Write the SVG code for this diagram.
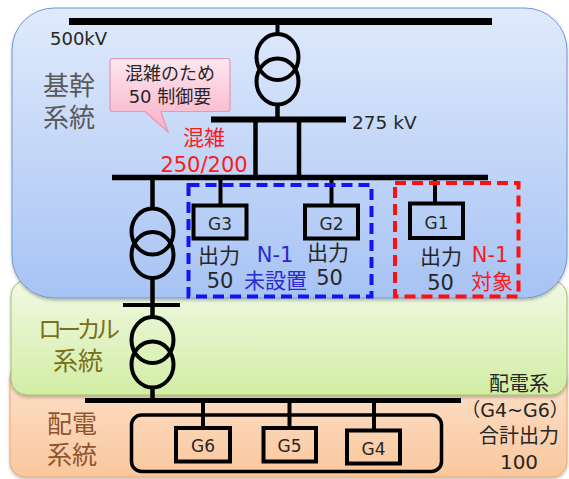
<svg xmlns="http://www.w3.org/2000/svg" width="569" height="479" viewBox="0 0 569 479">
<style>
.t{font-family:"DejaVu Sans","Noto Sans CJK JP",sans-serif;}
.dk{fill:#262626;}
.red{fill:#ff1a1a;}
.blu{fill:#2a2ad0;}
.w{stroke:#000;fill:none;}
.bus{stroke:#000;fill:none;stroke-linecap:butt;}
.gen{stroke:#000;stroke-width:4;fill:none;}
.tr{stroke:#000;stroke-width:4;fill:none;}
.dash{fill:none;stroke-width:4;stroke-dasharray:11 6;}
</style>
<defs>
<linearGradient id="gb" x1="0" y1="0" x2="0" y2="1"><stop offset="0" stop-color="#e0eafc"/><stop offset="1" stop-color="#a7c3f4"/></linearGradient>
<linearGradient id="gg" x1="0" y1="0" x2="0" y2="1"><stop offset="0" stop-color="#f1f9e4"/><stop offset="1" stop-color="#d2eda4"/></linearGradient>
<linearGradient id="go" x1="0" y1="0" x2="0" y2="1"><stop offset="0" stop-color="#fde4d0"/><stop offset="1" stop-color="#fac79d"/></linearGradient>
<linearGradient id="gp" x1="0" y1="0" x2="0" y2="1"><stop offset="0" stop-color="#fde6ef"/><stop offset="1" stop-color="#f8b0c7"/></linearGradient>
<filter id="sh" x="-5%" y="-5%" width="110%" height="115%"><feDropShadow dx="0" dy="2" stdDeviation="1.5" flood-color="#000" flood-opacity="0.25"/></filter>
</defs>

<g id="region-haiden">
<rect x="10" y="363" width="557" height="114" rx="15" fill="url(#go)" stroke="#f0a468" stroke-width="1" filter="url(#sh)"/>
<text class="t" x="47" y="433" font-size="25" fill="#8e5530">配電</text>
<text class="t" x="47" y="464" font-size="25" fill="#8e5530">系統</text>
</g>
<g id="region-local">
<rect x="11" y="280" width="556" height="115" rx="16" fill="url(#gg)" stroke="#9cc46a" stroke-width="1" filter="url(#sh)"/>
<text class="t" x="38" y="338" font-size="24" fill="#7a7018" textLength="82">ローカル</text>
<text class="t" x="53" y="370" font-size="25" fill="#7a7018">系統</text>
</g>
<g id="region-kikan">
<rect x="12" y="8" width="555" height="290" rx="42" fill="url(#gb)" stroke="#7096d4" stroke-width="1" filter="url(#sh)"/>
<text class="t" x="43" y="95" font-size="26" fill="#595959">基幹</text>
<text class="t" x="43" y="127" font-size="26" fill="#595959">系統</text>
</g>

<g id="connectors">
<line class="bus" x1="69" y1="21.5" x2="492" y2="21.5" stroke-width="7"/>
<line class="w" x1="277.5" y1="21" x2="277.5" y2="34" stroke-width="4"/>
<line class="w" x1="277.5" y1="104" x2="277.5" y2="120" stroke-width="4.5"/>
<line class="bus" x1="211" y1="119.5" x2="346" y2="119.5" stroke-width="6"/>
<line class="w" x1="255.5" y1="119" x2="255.5" y2="178" stroke-width="4.5"/>
<line class="w" x1="299" y1="119" x2="299" y2="178" stroke-width="4.5"/>
<line class="bus" x1="112" y1="177.5" x2="488" y2="177.5" stroke-width="5.5"/>
<line class="w" x1="152.5" y1="177" x2="152.5" y2="209" stroke-width="4.5"/>
<line class="w" x1="152.5" y1="277" x2="152.5" y2="318" stroke-width="4.5"/>
<line class="bus" x1="123" y1="305" x2="180" y2="305" stroke-width="4"/>
<line class="w" x1="152.5" y1="387" x2="152.5" y2="401" stroke-width="4.5"/>
<line class="bus" x1="85" y1="400.5" x2="461" y2="400.5" stroke-width="5"/>
<line class="w" x1="220.5" y1="177" x2="220.5" y2="206" stroke-width="4"/>
<line class="w" x1="331.5" y1="177" x2="331.5" y2="206" stroke-width="4"/>
<line class="w" x1="435" y1="177" x2="435" y2="204" stroke-width="4"/>
<line class="w" x1="203" y1="400" x2="203" y2="428" stroke-width="4"/>
<line class="w" x1="289.5" y1="400" x2="289.5" y2="428" stroke-width="4"/>
<line class="w" x1="374" y1="400" x2="374" y2="431" stroke-width="4"/>
</g>

<g id="tr-500-275">
<ellipse class="tr" cx="277.5" cy="57" rx="21" ry="23"/>
<ellipse class="tr" cx="277.5" cy="81.5" rx="21" ry="23"/>
</g>
<g id="tr-kikan-local">
<ellipse class="tr" cx="152.5" cy="231.5" rx="21" ry="23"/>
<ellipse class="tr" cx="152.5" cy="255" rx="21" ry="23"/>
</g>
<g id="tr-local-haiden">
<ellipse class="tr" cx="152.5" cy="340" rx="21" ry="23"/>
<ellipse class="tr" cx="152.5" cy="364.5" rx="21" ry="23"/>
</g>

<g id="bus-labels">
<text class="t dk" x="50" y="45" font-size="18">500kV</text>
<text class="t dk" x="352" y="129" font-size="18.5">275 kV</text>
</g>

<g id="callout">
<path d="M113,58.5 H227 Q230,58.5 230,61.5 V108.5 Q230,111.5 227,111.5 H161 L168,132 L145,111.5 H113 Q110,111.5 110,108.5 V61.5 Q110,58.5 113,58.5 Z" fill="url(#gp)" stroke="#e597b3" stroke-width="1.2"/>
<text class="t dk" x="170" y="80" font-size="18" text-anchor="middle">混雑のため</text>
<text class="t dk" x="170" y="103" font-size="18" text-anchor="middle">50 制御要</text>
</g>

<g id="congestion">
<text class="t red" x="204" y="145" font-size="21" text-anchor="middle">混雑</text>
<text class="t red" x="204" y="171.5" font-size="21" text-anchor="middle">250/200</text>
</g>

<g id="group-n1-none">
<rect class="dash" x="188.5" y="185" width="183" height="111.5" stroke="#1414f0"/>
<text class="t blu" x="275" y="262" font-size="21" text-anchor="middle">N-1</text>
<text class="t blu" x="275.5" y="288" font-size="21" text-anchor="middle">未設置</text>
</g>
<g id="group-n1-target">
<rect class="dash" x="395" y="183" width="123.5" height="113.5" stroke="#ff1010"/>
<text class="t red" x="490" y="262" font-size="21" text-anchor="middle">N-1</text>
<text class="t red" x="492" y="289" font-size="21" text-anchor="middle">対象</text>
</g>

<g id="G3">
<rect class="gen" x="193.5" y="205.5" width="53" height="33"/>
<text class="t dk" x="220" y="230" font-size="17" text-anchor="middle">G3</text>
<text class="t dk" x="219" y="263" font-size="21" text-anchor="middle">出力</text>
<text class="t dk" x="220" y="288" font-size="21" text-anchor="middle">50</text>
</g>
<g id="G2">
<rect class="gen" x="305" y="205.5" width="53" height="33"/>
<text class="t dk" x="331.5" y="230" font-size="17" text-anchor="middle">G2</text>
<text class="t dk" x="328" y="260" font-size="21" text-anchor="middle">出力</text>
<text class="t dk" x="329.5" y="285" font-size="21" text-anchor="middle">50</text>
</g>
<g id="G1">
<rect class="gen" x="410" y="203.5" width="53" height="34.5"/>
<text class="t dk" x="436.5" y="229" font-size="17" text-anchor="middle">G1</text>
<text class="t dk" x="441" y="264" font-size="21" text-anchor="middle">出力</text>
<text class="t dk" x="440.5" y="290" font-size="21" text-anchor="middle">50</text>
</g>

<g id="haiden-group">
<rect x="131.5" y="415" width="310" height="56.5" rx="10" fill="none" stroke="#000" stroke-width="3.5"/>
</g>
<g id="G6">
<rect class="gen" x="176" y="428" width="54" height="33.5"/>
<text class="t dk" x="203" y="452" font-size="17" text-anchor="middle">G6</text>
</g>
<g id="G5">
<rect class="gen" x="263.5" y="428" width="52.5" height="33.5"/>
<text class="t dk" x="289.5" y="452" font-size="17" text-anchor="middle">G5</text>
</g>
<g id="G4">
<rect class="gen" x="347" y="430.5" width="53" height="33"/>
<text class="t dk" x="373.5" y="455" font-size="17" text-anchor="middle">G4</text>
</g>

<g id="haiden-note">
<text class="t dk" x="519" y="391" font-size="20" text-anchor="middle">配電系</text>
<text class="t dk" x="515" y="417" font-size="19" text-anchor="middle">（G4~G6）</text>
<text class="t dk" x="519" y="443" font-size="20" text-anchor="middle">合計出力</text>
<text class="t dk" x="519" y="469" font-size="20" text-anchor="middle">100</text>
</g>
</svg>
